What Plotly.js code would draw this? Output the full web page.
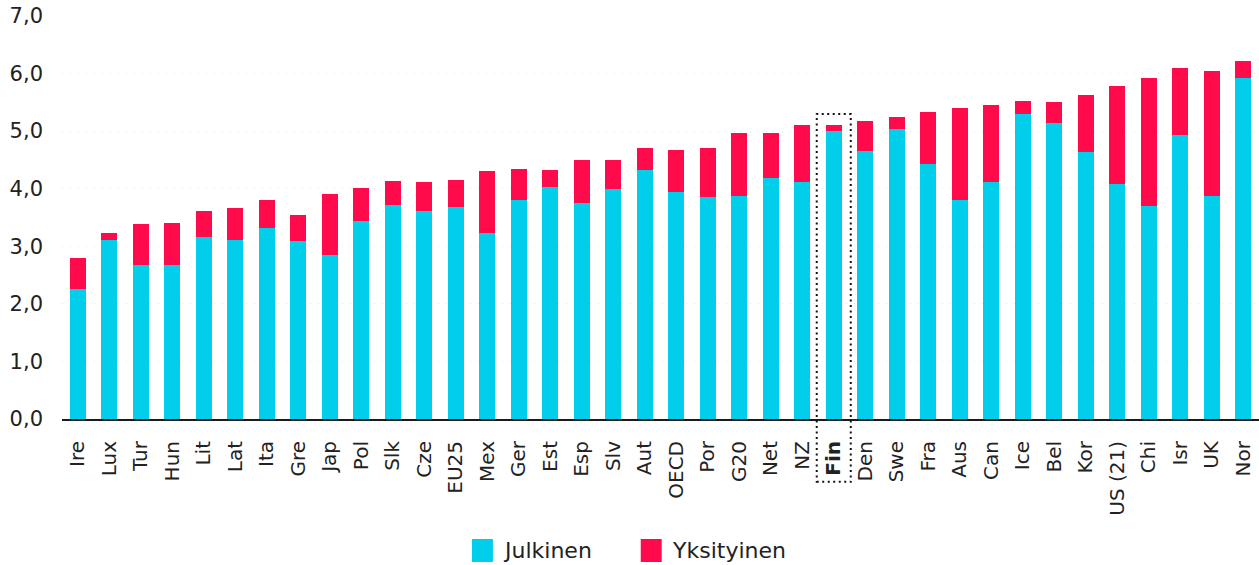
<!DOCTYPE html>
<html>
<head>
<meta charset="utf-8">
<script src="https://cdn.plot.ly/plotly-3.0.1.min.js"></script>
<style>
  html, body { margin: 0; padding: 0; background: #ffffff; }
  #chart { width: 1259px; height: 565px; }
</style>
</head>
<body>
<div id="chart"></div>
<script>
// ---- Data ----
const categories = ["Ire","Lux","Tur","Hun","Lit","Lat","Ita","Gre","Jap","Pol","Slk","Cze","EU25","Mex","Ger","Est","Esp","Slv","Aut","OECD","Por","G20","Net","NZ","Fin","Den","Swe","Fra","Aus","Can","Ice","Bel","Kor","US (21)","Chi","Isr","UK","Nor"];
const julkinen = [2.26,3.11,2.68,2.68,3.17,3.11,3.32,3.10,2.85,3.44,3.72,3.62,3.69,3.23,3.81,4.03,3.76,4.00,4.33,3.95,3.86,3.88,4.19,4.12,5.01,4.66,5.04,4.43,3.81,4.12,5.30,5.15,4.64,4.09,3.70,4.94,3.88,5.93];
const yksityinen = [0.54,0.12,0.71,0.73,0.45,0.56,0.49,0.45,1.05,0.58,0.42,0.50,0.47,1.08,0.54,0.30,0.74,0.50,0.37,0.73,0.84,1.08,0.77,0.99,0.10,0.51,0.21,0.91,1.60,1.34,0.23,0.35,0.99,1.70,2.23,1.15,2.17,0.28];
const seriesNames = ["Julkinen", "Yksityinen"];
const seriesColors = ["#00CEEA", "#FF0A4B"];
const highlight = "Fin";
const yTicks = [0,1,2,3,4,5,6,7];

// ---- Derived ----
const tickText = categories.map(c => c === highlight ? "<b>" + c + "</b>" : c);
const hi = categories.indexOf(highlight);

const traces = [
  { type: "bar", name: seriesNames[0], x: categories, y: julkinen,
    marker: { color: seriesColors[0] }, showlegend: false },
  { type: "bar", name: seriesNames[1], x: categories, y: yksityinen,
    marker: { color: seriesColors[1] }, showlegend: false }
];

// custom legend (larger swatches than Plotly's built-in)
const legendY0 = -0.2978, legendY1 = -0.3548, legendYc = -0.326;
const legendX = [0.3425, 0.4835];
const shapes = [
  { type: "rect", xref: "x", yref: "paper", x0: hi - 0.54, x1: hi + 0.54, y0: -0.156, y1: 0.757,
    line: { color: "#111111", width: 2, dash: "2px,3.5px" }, fillcolor: "rgba(0,0,0,0)" }
];
const annotations = [];
seriesNames.forEach((n, i) => {
  shapes.push({ type: "rect", xref: "paper", yref: "paper",
    x0: legendX[i], x1: legendX[i] + 0.0175, y0: legendY1, y1: legendY0,
    line: { width: 0 }, fillcolor: seriesColors[i] });
  annotations.push({ xref: "paper", yref: "paper", x: legendX[i] + 0.0245, y: legendYc,
    xanchor: "left", yanchor: "middle", showarrow: false, text: n,
    font: { family: "DejaVu Sans, sans-serif", size: 22, color: "#222222" } });
});

const layout = {
  width: 1259, height: 565,
  margin: { l: 62, r: 0, t: 16, b: 146, pad: 0 },
  paper_bgcolor: "#ffffff", plot_bgcolor: "#ffffff",
  barmode: "stack",
  bargap: 0.49,
  separators: ", ",
  showlegend: false,
  xaxis: {
    type: "category",
    tickmode: "array", tickvals: categories, ticktext: tickText,
    tickangle: -90,
    tickfont: { family: "DejaVu Sans, sans-serif", size: 20, color: "#222222" },
    showgrid: false, showline: true, linecolor: "#1a1a1a", linewidth: 2,
    ticks: "", ticklabelstandoff: 12,
    fixedrange: true
  },
  yaxis: {
    range: [0, 7], tickmode: "array", tickvals: yTicks, tickformat: ".1f",
    tickfont: { family: "DejaVu Sans, sans-serif", size: 21, color: "#222222" },
    showgrid: true, gridcolor: "#e2e2e2", gridwidth: 1, griddash: "1px,7px",
    zeroline: false, showline: false, ticks: "", ticklabelstandoff: 18,
    fixedrange: true
  },
  shapes: shapes,
  annotations: annotations
};

Plotly.newPlot("chart", traces, layout, { displayModeBar: false, staticPlot: true });
</script>
</body>
</html>
